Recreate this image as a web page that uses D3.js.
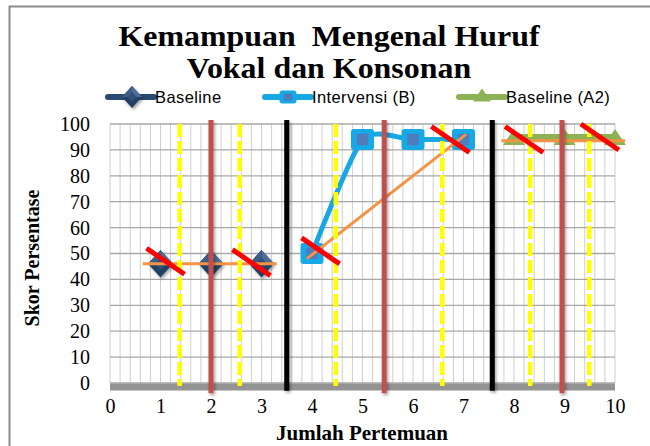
<!DOCTYPE html>
<html>
<head>
<meta charset="utf-8">
<script src="https://cdn.jsdelivr.net/npm/d3@7/dist/d3.min.js"></script>
<style>
  html, body { margin: 0; padding: 0; background: #ffffff; }
  svg { display: block; }
  text { white-space: pre; }
</style>
</head>
<body>
<svg id="chart" width="650" height="446"></svg>
<script>
// ---------------- DATA ----------------
const titleLines = ["Kemampuan  Mengenal Huruf", "Vokal dan Konsonan"];
const xTicks = [0, 1, 2, 3, 4, 5, 6, 7, 8, 9, 10];
const yTicks = [0, 10, 20, 30, 40, 50, 60, 70, 80, 90, 100];
const xLabel = "Jumlah Pertemuan";
const yLabel = "Skor Persentase";

const seriesNames = ["Baseline", "Intervensi (B)", "Baseline (A2)"];
const baselineX = [1, 2, 3];
const baselineY = [46, 46, 46];
const intervensiX = [4, 5, 6, 7];
const intervensiY = [50, 94, 94, 94];
const baselineA2X = [8, 9, 10];
const baselineA2Y = [95, 95, 95];

// orange trend lines: [x1, y1, x2, y2]
const trendBaseline = [0.65, 46, 3.3, 46];
const trendIntervensi = [3.9, 48, 7.05, 96];
const trendA2 = [7.75, 93.5, 10.2, 93.5];

// red slash marks (centres)
const slashX = [1.1, 2.8, 4.17, 6.74, 8.2, 9.7];
const slashY = [47, 46.5, 51, 94, 94, 95];

// vertical phase/median lines
const blackLinesX = [3.5, 7.57];
const brownLinesX = [2.0, 5.43, 8.95];
const yellowLinesX = [1.38, 2.57, 4.47, 6.58, 8.32, 9.49];

// ---------------- CHART ----------------
const svg = d3.select("#chart");
const x = d3.scaleLinear().domain([0, 10]).range([110, 615]);
const y = d3.scaleLinear().domain([0, 100]).range([383, 124]);

// outer border
svg.append("rect").attr("x", 9.5).attr("y", 6.5).attr("width", 700).attr("height", 500)
  .attr("fill", "none").attr("stroke", "#8c8c8c").attr("stroke-width", 2);

// title
svg.append("g").selectAll("text").data(titleLines).join("text")
  .attr("transform", (d, i) => `translate(329,${46 + i * 32}) scale(1.12,1)`)
  .attr("x", 0).attr("y", 0)
  .attr("text-anchor", "middle")
  .attr("font-family", "Liberation Serif, Times New Roman, serif")
  .attr("font-weight", "bold").attr("font-size", 28.5)
  .attr("fill", "#000").text(d => d);

// grid: minor vertical lines
const minorX = d3.range(0, 50.5, 1).map(v => v / 5);
svg.append("g").selectAll("line").data(minorX).join("line")
  .attr("x1", d => x(d)).attr("x2", d => x(d))
  .attr("y1", y(100)).attr("y2", y(0))
  .attr("stroke", "#cfcfcf").attr("stroke-width", 1);
// horizontal gridlines
svg.append("g").selectAll("line").data(yTicks).join("line")
  .attr("x1", x(0)).attr("x2", x(10))
  .attr("y1", d => y(d)).attr("y2", d => y(d))
  .attr("stroke", "#a8a8a8").attr("stroke-width", 1.3);

// y axis tick labels
const yAxis = d3.axisLeft(y).tickValues(yTicks).tickSize(0).tickPadding(20);
const gy = svg.append("g").attr("transform", `translate(${x(0)},0)`).call(yAxis);
gy.select(".domain").remove();
gy.selectAll("text").attr("font-family", "Liberation Serif, Times New Roman, serif")
  .attr("font-size", 20).attr("fill", "#000");

// x axis tick labels
const xAxis = d3.axisBottom(x).tickValues(xTicks).tickSize(0).tickPadding(16);
const gx = svg.append("g").attr("transform", `translate(0,${y(0)})`).call(xAxis);
gx.select(".domain").remove();
gx.selectAll("text").attr("font-family", "Liberation Serif, Times New Roman, serif")
  .attr("font-size", 20).attr("fill", "#000");

// axis titles
svg.append("text").attr("x", 362).attr("y", 440).attr("text-anchor", "middle")
  .attr("font-family", "Liberation Serif, Times New Roman, serif")
  .attr("font-weight", "bold").attr("font-size", 21).text(xLabel);
svg.append("text").attr("transform", "translate(39,258) rotate(-90)")
  .attr("text-anchor", "middle")
  .attr("font-family", "Liberation Serif, Times New Roman, serif")
  .attr("font-weight", "bold").attr("font-size", 20).text(yLabel);

// thick grey axis band at 0
svg.append("line").attr("x1", x(0)).attr("x2", x(10))
  .attr("y1", y(0) + 4).attr("y2", y(0) + 4)
  .attr("stroke", "#939393").attr("stroke-width", 7);

// shadow filter
const defs = svg.append("defs");
const f = defs.append("filter").attr("id", "sh").attr("x", "-50%").attr("y", "-50%").attr("width", "200%").attr("height", "200%");
f.append("feDropShadow").attr("dx", 1.5).attr("dy", 2).attr("stdDeviation", 1.5)
  .attr("flood-color", "#000").attr("flood-opacity", 0.35);

const line = d3.line().x(d => x(d[0])).y(d => y(d[1]));
const smoothLine = d3.line().x(d => x(d[0])).y(d => y(d[1])).curve(d3.curveCardinal.tension(0.35));

function zip(xs, ys) { return xs.map((v, i) => [v, ys[i]]); }
const baseData = zip(baselineX, baselineY);
const intData = zip(intervensiX, intervensiY);
const a2Data = zip(baselineA2X, baselineA2Y);

// series lines
svg.append("path").datum(baseData).attr("d", line).attr("fill", "none")
  .attr("stroke", "#2b4a72").attr("stroke-width", 6).attr("filter", "url(#sh)");
svg.append("path").datum(intData).attr("d", smoothLine).attr("fill", "none")
  .attr("stroke", "#17a8e3").attr("stroke-width", 5).attr("stroke-linejoin", "round");
svg.append("path").datum(a2Data).attr("d", line).attr("fill", "none")
  .attr("stroke", "#8db255").attr("stroke-width", 6);

// markers
function diamond(g, cx, cy, s) {
  g.append("path").attr("d", `M${cx},${cy - s * 1.1} L${cx + s},${cy} L${cx},${cy + s * 1.1} L${cx - s},${cy} Z`)
    .attr("fill", "#243f63").attr("filter", "url(#sh)");
  g.append("path").attr("d", `M${cx},${cy - s * 1.1} L${cx + s},${cy} L${cx},${cy} Z`).attr("fill", "#4b6d98");
  g.append("path").attr("d", `M${cx},${cy - s * 1.1} L${cx - s},${cy} L${cx},${cy} Z`).attr("fill", "#3c5d88");
  g.append("path").attr("d", `M${cx},${cy - s * 0.5} L${cx + s * 0.45},${cy} L${cx},${cy + s * 0.5} L${cx - s * 0.45},${cy} Z`)
    .attr("fill", "#2f5077");
}
function square(g, cx, cy, w, h) {
  g.append("rect").attr("x", cx - w / 2).attr("y", cy - h / 2).attr("width", w).attr("height", h)
    .attr("rx", 3).attr("fill", "#16a9e6");
  g.append("rect").attr("x", cx - w * 0.25).attr("y", cy - h * 0.27).attr("width", w * 0.5).attr("height", h * 0.54)
    .attr("fill", "#4e7cbc");
}
function triangle(g, cx, cy, w, h) {
  g.append("path").attr("d", `M${cx},${cy - h / 2} L${cx + w / 2},${cy + h / 2} L${cx - w / 2},${cy + h / 2} Z`)
    .attr("fill", "#8db255");
}
const mg = svg.append("g");
baseData.forEach(d => diamond(mg, x(d[0]), y(d[1]), 12.5));
intData.forEach(d => square(mg, x(d[0]), y(d[1]), 23, 21));
a2Data.forEach(d => triangle(mg, x(d[0]), y(d[1]), 22, 16));

// trend lines
[trendBaseline, trendIntervensi, trendA2].forEach(t => {
  svg.append("line").attr("x1", x(t[0])).attr("y1", y(t[1])).attr("x2", x(t[2])).attr("y2", y(t[3]))
    .attr("stroke", "#f39343").attr("stroke-width", 3);
});

// vertical lines
const vg = svg.append("g").attr("filter", "url(#sh)");
vg.selectAll(".bl").data(blackLinesX).join("line").attr("class", "bl")
  .attr("x1", d => x(d)).attr("x2", d => x(d)).attr("y1", y(101.5)).attr("y2", y(-3))
  .attr("stroke", "#000").attr("stroke-width", 5);
vg.selectAll(".br").data(brownLinesX).join("line").attr("class", "br")
  .attr("x1", d => x(d)).attr("x2", d => x(d)).attr("y1", y(101.5)).attr("y2", y(-4))
  .attr("stroke", "#c0504d").attr("stroke-width", 5);
svg.append("g").selectAll("line").data(yellowLinesX).join("line")
  .attr("x1", d => x(d)).attr("x2", d => x(d)).attr("y1", y(100)).attr("y2", y(-1.2))
  .attr("stroke", "#ffff00").attr("stroke-width", 4.5).attr("stroke-dasharray", "13,4");

// red slashes
const slashes = zip(slashX, slashY);
svg.append("g").selectAll("line").data(slashes).join("line")
  .attr("x1", d => x(d[0]) - 19).attr("y1", d => y(d[1]) - 13)
  .attr("x2", d => x(d[0]) + 19).attr("y2", d => y(d[1]) + 13)
  .attr("stroke", "#ff0000").attr("stroke-width", 5);

// legend
const legendX = [108, 265, 459];
const lg = svg.append("g");
seriesNames.forEach((name, i) => {
  const lx = legendX[i], ly = 97;
  const col = ["#2b4a72", "#17a8e3", "#8db255"][i];
  lg.append("line").attr("x1", lx).attr("x2", lx + 46).attr("y1", ly).attr("y2", ly)
    .attr("stroke", col).attr("stroke-width", 6).attr("stroke-linecap", "round");
  if (i === 0) diamond(lg, lx + 24, ly, 10);
  if (i === 1) square(lg, lx + 23, ly, 17, 13);
  if (i === 2) triangle(lg, lx + 23, ly - 2, 18, 13);
  lg.append("text").attr("x", lx + 47).attr("y", ly + 6)
    .attr("font-family", "Liberation Sans, Arial, sans-serif").attr("font-size", 16.5)
    .attr("letter-spacing", 0.4)
    .attr("fill", "#000").text(name);
});
</script>
</body>
</html>
